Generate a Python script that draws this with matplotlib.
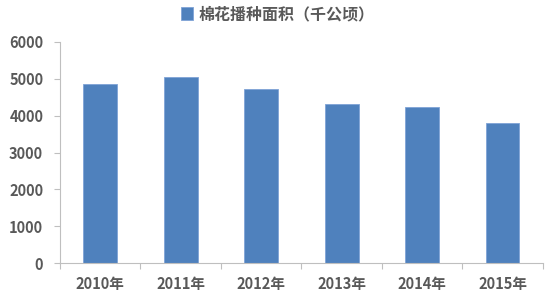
import numpy as np
import matplotlib.pyplot as plt

plt.rcParams['font.family'] = ['Noto Sans CJK SC', 'DejaVu Sans']

years = ["2010年", "2011年", "2012年", "2013年", "2014年", "2015年"]
area = [4866, 5040, 4718, 4320, 4232, 3792]
series_name = "棉花播种面积（千公顷）"

grey = "#595959"
axis_col = "#bfbfbf"

fig = plt.figure(figsize=(5.55, 3.0), dpi=100)
ax = fig.add_axes([0.108, 0.123, 0.87, 0.737])

x = np.arange(len(years))
ax.bar(x, area, width=0.42, color="#4F81BD", edgecolor="#7FA3D6",
       linewidth=0.6, label=series_name, zorder=2)

ax.set_xlim(-0.5, len(years) - 0.5)
ax.set_ylim(0, 6000)
ax.set_yticks(np.arange(0, 6001, 1000))

# ticks between categories, labels in the middle
ax.set_xticks(np.arange(-0.5, len(years), 1.0))
ax.set_xticklabels([])
ax.set_xticks(x, minor=True)
ax.set_xticklabels(years, minor=True)
ax.tick_params(axis="x", which="major", length=4, color=axis_col, direction="out")
ax.tick_params(axis="x", which="minor", length=0, pad=9, labelsize=10.5, labelcolor=grey)
ax.tick_params(axis="y", length=4, color=axis_col, direction="out", pad=8,
               labelsize=10.5, labelcolor=grey)
for lab in ax.get_yticklabels():
    lab.set_fontweight("bold")
for lab in ax.get_xticklabels(minor=True):
    lab.set_fontweight("bold")

for s in ["top", "right"]:
    ax.spines[s].set_visible(False)
ax.spines["left"].set_color(axis_col)
ax.spines["bottom"].set_color(axis_col)

leg = fig.legend(loc="center", bbox_to_anchor=(0.5, 0.953), frameon=False,
                 handlelength=0.8, handleheight=0.8, handletextpad=0.3,
                 prop={"size": 11.5, "weight": "bold"})
for t in leg.get_texts():
    t.set_color(grey)

fig.savefig("out.png", dpi=100)
